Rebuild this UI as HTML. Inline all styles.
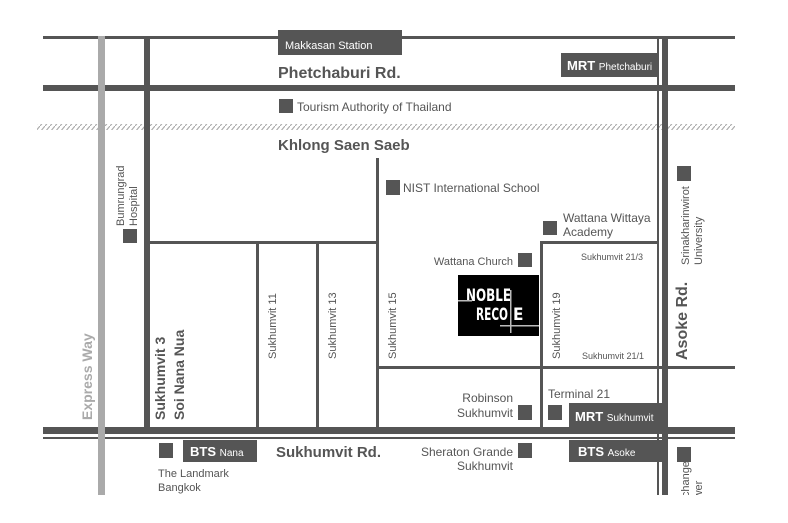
<!DOCTYPE html>
<html><head><meta charset="utf-8"><style>
html,body{margin:0;padding:0;background:#fff;}
svg{display:block;}
text{font-family:"Liberation Sans",Arial,sans-serif;fill:#555;}
</style></head><body>
<svg width="788" height="523" viewBox="0 0 788 523" xmlns="http://www.w3.org/2000/svg">
<defs>
<pattern id="hatch" width="5" height="6" patternUnits="userSpaceOnUse">
<line x1="0" y1="6" x2="5" y2="0" stroke="#aaa" stroke-width="1.2"/>
</pattern>
</defs>
<rect width="788" height="523" fill="#fff"/>
<!-- top thin road -->
<rect x="43" y="36" width="692" height="3" fill="#555"/>
<!-- Phetchaburi -->
<rect x="43" y="85" width="692" height="6" fill="#555"/>
<!-- hatched canal -->
<rect x="37" y="124" width="698" height="6" fill="url(#hatch)"/>
<!-- Express way -->
<rect x="98" y="36" width="7" height="459" fill="#aaa"/>
<!-- Sukhumvit 3 -->
<rect x="144" y="36" width="6" height="396" fill="#555"/>
<!-- Sukhumvit 15 -->
<rect x="376" y="158" width="3" height="274" fill="#555"/>
<!-- horizontal soi -->
<rect x="147" y="241" width="231" height="3" fill="#555"/>
<rect x="256" y="241" width="3" height="191" fill="#555"/>
<rect x="316" y="241" width="3" height="191" fill="#555"/>
<!-- sukhumvit 19 box -->
<rect x="540" y="241" width="3" height="191" fill="#555"/>
<rect x="540" y="241" width="118" height="3" fill="#555"/>
<rect x="377" y="366" width="358" height="3" fill="#555"/>
<!-- Asoke -->
<rect x="657" y="36" width="2" height="459" fill="#555"/>
<rect x="662" y="36" width="6" height="459" fill="#555"/>
<!-- Sukhumvit Rd -->
<rect x="43" y="427" width="692" height="7" fill="#555"/>
<rect x="43" y="437" width="692" height="2" fill="#555"/>
<rect x="98" y="427" width="7" height="12" fill="#aaa"/>

<!-- Makkasan -->
<rect x="278" y="30" width="124" height="25" fill="#555"/>
<text x="285" y="49" font-size="11" style="fill:#fff">Makkasan Station</text>
<text x="278" y="78" font-size="16" font-weight="bold">Phetchaburi Rd.</text>
<rect x="279" y="99" width="14" height="14" fill="#555"/>
<text x="297" y="111" font-size="12">Tourism Authority of Thailand</text>
<text x="278" y="150" font-size="15" font-weight="bold">Khlong Saen Saeb</text>

<!-- MRT Phetchaburi -->
<rect x="561" y="53" width="97" height="24" fill="#555"/>
<text x="567" y="70" font-size="13" font-weight="bold" style="fill:#fff">MRT <tspan font-size="10" font-weight="normal">Phetchaburi</tspan></text>

<!-- Bumrungrad -->
<rect x="123" y="229" width="14" height="14" fill="#555"/>
<text transform="translate(124,226) rotate(-90)" font-size="11">Bumrungrad</text>
<text transform="translate(137,226) rotate(-90)" font-size="11">Hospital</text>

<text transform="translate(92,420) rotate(-90)" font-size="14" font-weight="bold" style="fill:#aaa">Express Way</text>
<text transform="translate(165,420) rotate(-90)" font-size="14" font-weight="bold">Sukhumvit 3</text>
<text transform="translate(184,420) rotate(-90)" font-size="14" font-weight="bold">Soi Nana Nua</text>
<text transform="translate(276,359) rotate(-90)" font-size="11">Sukhumvit 11</text>
<text transform="translate(336,359) rotate(-90)" font-size="11">Sukhumvit 13</text>
<text transform="translate(396,359) rotate(-90)" font-size="11">Sukhumvit 15</text>
<text transform="translate(560,359) rotate(-90)" font-size="11">Sukhumvit 19</text>

<!-- NIST -->
<rect x="386" y="180" width="14" height="15" fill="#555"/>
<text x="403" y="192" font-size="12">NIST International School</text>
<rect x="543" y="221" width="14" height="14" fill="#555"/>
<text x="563" y="222" font-size="12">Wattana Wittaya</text>
<text x="563" y="236" font-size="12">Academy</text>
<text x="513" y="265" font-size="11" text-anchor="end">Wattana Church</text>
<rect x="518" y="253" width="14" height="14" fill="#555"/>
<text x="581" y="260" font-size="9">Sukhumvit 21/3</text>
<text x="582" y="359" font-size="9">Sukhumvit 21/1</text>

<!-- Noble -->
<rect x="458" y="275" width="81" height="61" fill="#000"/>
<text x="466" y="301" font-size="17" font-weight="bold" style="fill:#fff;font-family:'DejaVu Sans Condensed','Liberation Sans Narrow',sans-serif" textLength="45" lengthAdjust="spacingAndGlyphs">NOBLE</text>
<text x="476" y="320" font-size="17" font-weight="bold" style="fill:#fff;font-family:'DejaVu Sans Condensed','Liberation Sans Narrow',sans-serif" textLength="32" lengthAdjust="spacingAndGlyphs">RECO</text>
<text x="513" y="320" font-size="17" font-weight="bold" style="fill:#fff;font-family:'DejaVu Sans Condensed','Liberation Sans Narrow',sans-serif">E</text>
<rect x="510" y="290" width="1.5" height="43" fill="#bbb"/>
<rect x="458" y="300" width="14" height="1.5" fill="#bbb"/>
<rect x="500" y="325" width="39" height="1.5" fill="#bbb"/>

<!-- Srinakharinwirot -->
<rect x="677" y="166" width="14" height="15" fill="#555"/>
<text transform="translate(689,265) rotate(-90)" font-size="11">Srinakharinwirot</text>
<text transform="translate(702,265) rotate(-90)" font-size="11">University</text>
<text transform="translate(687,360) rotate(-90)" font-size="16" font-weight="bold">Asoke Rd.</text>

<!-- lower -->
<text x="548" y="398" font-size="12">Terminal 21</text>
<text x="513" y="402" font-size="12" text-anchor="end">Robinson</text>
<text x="513" y="417" font-size="12" text-anchor="end">Sukhumvit</text>
<rect x="518" y="405" width="14" height="15" fill="#555"/>
<rect x="548" y="405" width="14" height="15" fill="#555"/>
<rect x="569" y="403" width="96" height="25" fill="#555"/>
<text x="575" y="421" font-size="13" font-weight="bold" style="fill:#fff">MRT <tspan font-size="10" font-weight="normal">Sukhumvit</tspan></text>

<rect x="569" y="440" width="96" height="22" fill="#555"/>
<text x="578" y="456" font-size="13" font-weight="bold" style="fill:#fff">BTS <tspan font-size="10" font-weight="normal">Asoke</tspan></text>
<rect x="518" y="443" width="14" height="15" fill="#555"/>
<text x="513" y="456" font-size="12" text-anchor="end">Sheraton Grande</text>
<text x="513" y="470" font-size="12" text-anchor="end">Sukhumvit</text>
<rect x="677" y="447" width="14" height="15" fill="#555"/>
<text transform="translate(689,510) rotate(-90)" font-size="11">Exchange</text>
<text transform="translate(702,510) rotate(-90)" font-size="11">Tower</text>
<rect x="670" y="495" width="60" height="28" fill="#fff"/>

<rect x="159" y="443" width="14" height="15" fill="#555"/>
<rect x="183" y="440" width="74" height="22" fill="#555"/>
<text x="190" y="456" font-size="13" font-weight="bold" style="fill:#fff">BTS <tspan font-size="10" font-weight="normal">Nana</tspan></text>
<text x="276" y="457" font-size="15" font-weight="bold">Sukhumvit Rd.</text>
<text x="158" y="477" font-size="11">The Landmark</text>
<text x="158" y="491" font-size="11">Bangkok</text>
</svg>
</body></html>
